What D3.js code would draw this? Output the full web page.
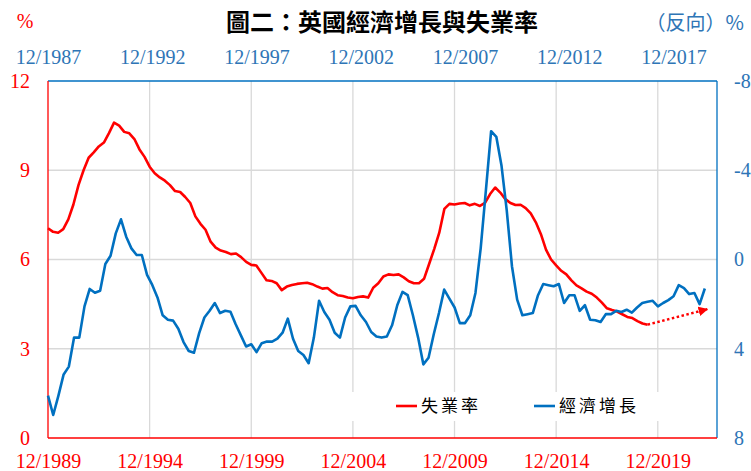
<!DOCTYPE html>
<html>
<head>
<meta charset="utf-8">
<script src="https://cdn.jsdelivr.net/npm/d3@7"></script>
<style>
  html, body { margin: 0; padding: 0; background: #fff; }
  svg { display: block; }
  .num { font-family: "Liberation Serif", "Times New Roman", serif; font-size: 20px; }
  .cjk { font-family: "Noto Sans CJK TC", "Noto Sans CJK SC", sans-serif; }
</style>
</head>
<body>
<svg id="chart" width="751" height="471"></svg>
<script>
// quarterly series, unemployment starts 12/1989 (bottom axis), GDP starts 12/1987 (top axis)
const unempStart = 1989 + 11 / 12
const gdpStart = 1987 + 11 / 12

const unemployment = [
  7.05, 6.93, 6.90, 7.02, 7.35, 7.85, 8.50, 9.00, 9.42, 9.60,
  9.80, 9.93, 10.25, 10.60, 10.50, 10.29, 10.24, 10.05, 9.70, 9.45,
  9.12, 8.90, 8.76, 8.65, 8.50, 8.30, 8.27, 8.10, 7.90, 7.45,
  7.20, 7.00, 6.60, 6.40, 6.30, 6.25, 6.18, 6.20, 6.08, 5.92,
  5.82, 5.80, 5.55, 5.30, 5.28, 5.20, 4.97, 5.09, 5.14, 5.18,
  5.20, 5.22, 5.17, 5.09, 5.02, 5.04, 4.90, 4.80, 4.77, 4.72,
  4.70, 4.74, 4.76, 4.72, 5.05, 5.20, 5.43, 5.50, 5.48, 5.50,
  5.40, 5.27, 5.20, 5.20, 5.35, 5.85, 6.35, 6.90, 7.70, 7.87,
  7.85, 7.88, 7.90, 7.82, 7.87, 7.80, 7.90, 8.20, 8.42, 8.25,
  8.03, 7.90, 7.83, 7.84, 7.73, 7.55, 7.25, 6.85, 6.33, 6.00,
  5.80, 5.62, 5.50, 5.30, 5.13, 5.03, 4.92, 4.85, 4.72, 4.55,
  4.36, 4.30, 4.25, 4.16, 4.07, 4.03, 3.93, 3.85, 3.81
]

const gdpGrowth = [
  6.10, 6.97, 6.10, 5.15, 4.80, 3.50, 3.50, 2.10, 1.32, 1.49,
  1.40, 0.20, -0.17, -1.17, -1.80, -1.02, -0.50, -0.20, -0.20, 0.69,
  1.14, 1.70, 2.50, 2.70, 2.74, 3.10, 3.70, 4.10, 4.18, 3.30,
  2.60, 2.30, 1.95, 2.40, 2.30, 2.34, 2.90, 3.40, 3.90, 3.80,
  4.15, 3.75, 3.68, 3.68, 3.55, 3.28, 2.65, 3.55, 4.10, 4.28,
  4.65, 3.50, 1.85, 2.35, 2.70, 3.28, 3.50, 2.60, 2.10, 2.08,
  2.50, 2.80, 3.25, 3.45, 3.50, 3.45, 2.95, 2.05, 1.45, 1.60,
  2.50, 3.50, 4.70, 4.40, 3.35, 2.40, 1.35, 1.75, 2.15, 2.85,
  2.85, 2.50, 1.50, -0.50, -3.10, -5.75, -5.50, -4.20, -2.20, 0.30,
  1.80, 2.50, 2.45, 2.40, 1.60, 1.10, 1.15, 1.20, 1.10, 1.95,
  1.60, 1.60, 2.30, 2.05, 2.70, 2.72, 2.80, 2.45, 2.45, 2.30,
  2.35, 2.25, 2.38, 2.15, 1.95, 1.89, 1.85, 2.10, 1.95, 1.82,
  1.65, 1.15, 1.28, 1.55, 1.50, 2.00, 1.30
]

const bottomTickYears = [1989, 1994, 1999, 2004, 2009, 2014, 2019]
const topTickYears = [1987, 1992, 1997, 2002, 2007, 2012, 2017]
const leftTicks = [0, 3, 6, 9, 12]
const rightTicks = [-8, -4, 0, 4, 8]
const arrowTarget = { year: 2022.35, value: 4.33 }

const RED = '#ff0000'
const BLUE = '#0070c0'
const BLUE_TEXT = '#2e75b6'
const GRID = '#d9d9d9'

const plot = { left: 48, right: 717, top: 81, bottom: 438 }
const svg = d3.select('#chart')

const xBottom = d3.scaleLinear().domain([unempStart, 2022.83]).range([plot.left, plot.right])
const xTop = d3.scaleLinear().domain([gdpStart, 2020.0]).range([plot.left, plot.right])
const yLeft = d3.scaleLinear().domain([0, 12]).range([plot.bottom, plot.top])
const yRight = d3.scaleLinear().domain([8, -8]).range([plot.bottom, plot.top])

const unempData = unemployment.map((v, i) => ({ t: unempStart + i * 0.25, v }))
const gdpData = gdpGrowth.map((v, i) => ({ t: gdpStart + i * 0.25, v }))

// grid
const grid = svg.append('g')
grid.selectAll('.hg').data([3, 6, 9]).enter().append('line')
  .attr('x1', plot.left).attr('x2', plot.right)
  .attr('y1', d => yLeft(d)).attr('y2', d => yLeft(d))
  .attr('stroke', GRID).attr('stroke-width', 1.3)
grid.selectAll('.vg').data(bottomTickYears.slice(1)).enter().append('line')
  .attr('x1', d => xBottom(d + 11 / 12)).attr('x2', d => xBottom(d + 11 / 12))
  .attr('y1', plot.top).attr('y2', plot.bottom)
  .attr('stroke', GRID).attr('stroke-width', 1.3)

// legend backdrop
svg.append('rect').attr('x', 335).attr('y', 392).attr('width', 332).attr('height', 29).attr('fill', '#fff')

// frame
svg.append('line').attr('x1', plot.left).attr('x2', plot.right).attr('y1', plot.top).attr('y2', plot.top)
  .attr('stroke', BLUE).attr('stroke-width', 1.3)
svg.append('line').attr('x1', plot.right).attr('x2', plot.right).attr('y1', plot.top).attr('y2', plot.bottom)
  .attr('stroke', BLUE).attr('stroke-width', 1.3)
svg.append('line').attr('x1', plot.left).attr('x2', plot.right).attr('y1', plot.bottom).attr('y2', plot.bottom)
  .attr('stroke', RED).attr('stroke-width', 1.3)
svg.append('line').attr('x1', plot.left).attr('x2', plot.left).attr('y1', plot.top).attr('y2', plot.bottom)
  .attr('stroke', RED).attr('stroke-width', 1.3)

// axes
const fmtDate = d => '12/' + Math.floor(d)
const fmtNum = d => String(d)
const styleAxis = (g, color) => {
  g.select('.domain').remove()
  g.selectAll('text').attr('class', 'num').attr('fill', color)
}
svg.append('g').attr('transform', 'translate(0,454)')
  .call(d3.axisBottom(xBottom).tickValues(bottomTickYears.map(y => y + 11 / 12)).tickFormat(fmtDate).tickSize(0).tickPadding(0))
  .call(g => styleAxis(g, RED))
svg.append('g').attr('transform', 'translate(0,64)')
  .call(d3.axisTop(xTop).tickValues(topTickYears.map(y => y + 11 / 12)).tickFormat(fmtDate).tickSize(0).tickPadding(0))
  .call(g => styleAxis(g, BLUE_TEXT))
svg.append('g').attr('transform', 'translate(30,0)')
  .call(d3.axisLeft(yLeft).tickValues(leftTicks).tickFormat(fmtNum).tickSize(0).tickPadding(0))
  .call(g => styleAxis(g, RED))
svg.append('g').attr('transform', 'translate(734,0)')
  .call(d3.axisRight(yRight).tickValues(rightTicks).tickFormat(fmtNum).tickSize(0).tickPadding(0))
  .call(g => styleAxis(g, BLUE_TEXT))

// lines
const unempLine = d3.line().x(d => xBottom(d.t)).y(d => yLeft(d.v))
const gdpLine = d3.line().x(d => xTop(d.t)).y(d => yRight(d.v))

svg.append('path').datum(unempData).attr('d', unempLine)
  .attr('fill', 'none').attr('stroke', RED).attr('stroke-width', 2.6).attr('stroke-linejoin', 'round')
svg.append('path').datum(gdpData).attr('d', gdpLine)
  .attr('fill', 'none').attr('stroke', BLUE).attr('stroke-width', 2.6).attr('stroke-linejoin', 'round')

// dotted trend arrow
svg.append('defs').append('marker').attr('id', 'arrow')
  .attr('viewBox', '0 0 10 10').attr('refX', 9).attr('refY', 5)
  .attr('markerWidth', 4).attr('markerHeight', 4).attr('orient', 'auto')
  .append('path').attr('d', 'M0,0L10,5L0,10Z').attr('fill', RED)
const last = unempData[unempData.length - 1]
svg.append('line')
  .attr('x1', xBottom(last.t)).attr('y1', yLeft(last.v))
  .attr('x2', xBottom(arrowTarget.year)).attr('y2', yLeft(arrowTarget.value))
  .attr('stroke', RED).attr('stroke-width', 2.4).attr('stroke-dasharray', '2.5,2.5')
  .attr('marker-end', 'url(#arrow)')

// titles
svg.append('text').attr('class', 'cjk').attr('x', 382).attr('y', 31)
  .attr('text-anchor', 'middle').attr('font-size', 24).attr('font-weight', 'bold').attr('fill', '#000')
  .text('圖二：英國經濟增長與失業率')
svg.append('text').attr('class', 'num').attr('x', 25).attr('y', 28)
  .attr('text-anchor', 'middle').attr('fill', RED).text('%')
svg.append('text').attr('class', 'cjk').attr('x', 744).attr('y', 30)
  .attr('text-anchor', 'end').attr('font-size', 20).attr('fill', BLUE_TEXT).text('（反向）%')

// legend
const legend = [
  { label: '失業率', color: RED, x: 396 },
  { label: '經濟增長', color: BLUE, x: 534 }
]
const lg = svg.append('g').selectAll('g').data(legend).enter().append('g')
  .attr('transform', d => `translate(${d.x},406)`)
lg.append('line').attr('x1', 0).attr('x2', 21).attr('y1', 0).attr('y2', 0)
  .attr('stroke', d => d.color).attr('stroke-width', 2.6)
lg.append('text').attr('class', 'cjk').attr('x', 25).attr('y', 6)
  .attr('font-size', 17).attr('letter-spacing', 3).attr('fill', '#000')
  .text(d => d.label)
</script>
</body>
</html>
